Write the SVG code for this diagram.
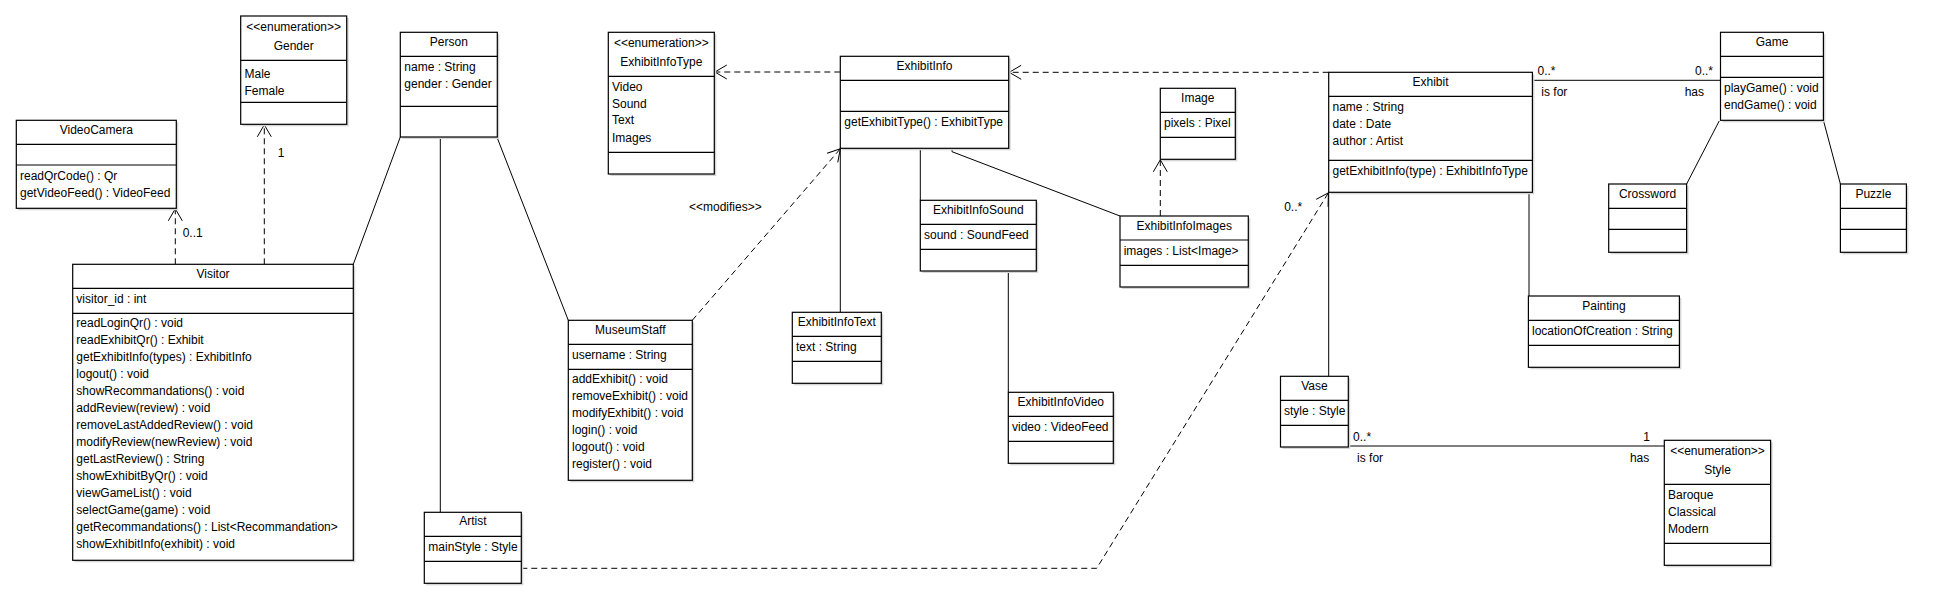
<svg xmlns="http://www.w3.org/2000/svg" width="1944" height="605" viewBox="0 0 1944 605">
<style>
.box{fill:#fff;stroke:#000;stroke-width:1.2}
.sh{fill:#d6d6d6}
.dv{stroke:#000;stroke-width:1.2}
text{font-family:"Liberation Sans",Arial,sans-serif;font-size:12px;fill:#000}
.c{text-anchor:middle}
.ln{stroke:#000;stroke-width:1;fill:none}
.da{stroke-dasharray:6,4}
.ar{marker-end:url(#open)}
</style>
<defs>
<marker id="open" markerUnits="userSpaceOnUse" markerWidth="16" markerHeight="16" viewBox="-14 -8 16 16" refX="0" refY="0" orient="auto">
<path d="M-12,-7 L0,0 L-12,7" fill="none" stroke="#000" stroke-width="1"/>
</marker>
</defs>
<rect width="1944" height="605" fill="#fff"/>

<g id="connectors">
<line class="ln da ar" x1="175.3" y1="264.3" x2="175.3" y2="208.8"/>
<text x="182.7" y="237">0..1</text>
<line class="ln da ar" x1="264.3" y1="264.3" x2="264.3" y2="124.8"/>
<text x="277.7" y="157">1</text>
<line class="ln" x1="353.3" y1="264.3" x2="400.3" y2="137"/>
<line class="ln" x1="440.3" y1="137" x2="440.3" y2="512.3"/>
<line class="ln" x1="497.3" y1="138" x2="568.3" y2="320.3"/>
<line class="ln da ar" x1="692.3" y1="320.3" x2="840.3" y2="148.8"/>
<text x="689" y="210.7">&lt;&lt;modifies&gt;&gt;</text>
<line class="ln da ar" x1="840.3" y1="72" x2="714.8" y2="72"/>
<line class="ln da ar" x1="1328.7" y1="72.3" x2="1009.2" y2="72.3"/>
<line class="ln" x1="840.3" y1="148.3" x2="840.3" y2="312.3"/>
<line class="ln" x1="920.3" y1="148.3" x2="920.3" y2="200.3"/>
<line class="ln" x1="1008.3" y1="271" x2="1008.3" y2="392.3"/>
<polyline class="ln" points="952,148.3 952,151.7 1120,216"/>
<line class="ln da ar" x1="1160.3" y1="216" x2="1160.3" y2="159.8"/>
<polyline class="ln da ar" points="521.3,568.3 1096.7,568.3 1328.4,192.8"/>
<text x="1284.2" y="210.7">0..*</text>
<line class="ln" x1="1532.4" y1="80.3" x2="1720.5" y2="80.3"/>
<text x="1537.5" y="75">0..*</text>
<text x="1541.3" y="95.7">is for</text>
<text x="1713" y="75" text-anchor="end">0..*</text>
<text x="1704" y="95.7" text-anchor="end">has</text>
<line class="ln" x1="1719.2" y1="121" x2="1686.6" y2="184"/>
<line class="ln" x1="1823.4" y1="120.3" x2="1840.4" y2="184"/>
<line class="ln" x1="1328.7" y1="192.3" x2="1328.7" y2="376.3"/>
<line class="ln" x1="1529" y1="192.3" x2="1529" y2="296"/>
<line class="ln" x1="1348.3" y1="446" x2="1664.3" y2="446"/>
<text x="1353.1" y="441.3">0..*</text>
<text x="1357.1" y="461.7">is for</text>
<text x="1650" y="441.3" text-anchor="end">1</text>
<text x="1649.3" y="461.7" text-anchor="end">has</text>
</g>

<g id="Gender">
<rect class="sh" x="242.7" y="18" width="106" height="108.3"/>
<rect class="box" x="240.7" y="16" width="106" height="108.3"/>
<line class="dv" x1="240.7" y1="60.3" x2="346.7" y2="60.3"/>
<line class="dv" x1="240.7" y1="102.3" x2="346.7" y2="102.3"/>
<text class="c" x="293.7" y="30.7">&lt;&lt;enumeration&gt;&gt;</text>
<text class="c" x="293.7" y="49.7">Gender</text>
<text x="244.5" y="78">Male</text>
<text x="244.5" y="95">Female</text>
</g>

<g id="VideoCamera">
<rect class="sh" x="18.3" y="122.3" width="160" height="88"/>
<rect class="box" x="16.3" y="120.3" width="160" height="88"/>
<line class="dv" x1="16.3" y1="144.3" x2="176.3" y2="144.3"/>
<line class="dv" x1="16.3" y1="165" x2="176.3" y2="165"/>
<text class="c" x="96.3" y="134">VideoCamera</text>
<text x="20" y="179.7">readQrCode() : Qr</text>
<text x="20" y="196.7">getVideoFeed() : VideoFeed</text>
</g>

<g id="Visitor">
<rect class="sh" x="74.7" y="266.3" width="280.6" height="296"/>
<rect class="box" x="72.7" y="264.3" width="280.6" height="296"/>
<line class="dv" x1="72.7" y1="288.3" x2="353.3" y2="288.3"/>
<line class="dv" x1="72.7" y1="313.3" x2="353.3" y2="313.3"/>
<text class="c" x="213" y="277.7">Visitor</text>
<text x="76.3" y="302.7">visitor_id : int</text>
<text x="76.3" y="327.3">readLoginQr() : void</text>
<text x="76.3" y="344.3">readExhibitQr() : Exhibit</text>
<text x="76.3" y="361.3">getExhibitInfo(types) : ExhibitInfo</text>
<text x="76.3" y="378.3">logout() : void</text>
<text x="76.3" y="395.3">showRecommandations() : void</text>
<text x="76.3" y="412.3">addReview(review) : void</text>
<text x="76.3" y="429.3">removeLastAddedReview() : void</text>
<text x="76.3" y="446.3">modifyReview(newReview) : void</text>
<text x="76.3" y="463.3">getLastReview() : String</text>
<text x="76.3" y="480.3">showExhibitByQr() : void</text>
<text x="76.3" y="497.3">viewGameList() : void</text>
<text x="76.3" y="514.3">selectGame(game) : void</text>
<text x="76.3" y="531.3">getRecommandations() : List&lt;Recommandation&gt;</text>
<text x="76.3" y="548.3">showExhibitInfo(exhibit) : void</text>
</g>

<g id="Person">
<rect class="sh" x="402.3" y="34.3" width="97" height="104.7"/>
<rect class="box" x="400.3" y="32.3" width="97" height="104.7"/>
<line class="dv" x1="400.3" y1="56.3" x2="497.3" y2="56.3"/>
<line class="dv" x1="400.3" y1="106.3" x2="497.3" y2="106.3"/>
<text class="c" x="448.8" y="46">Person</text>
<text x="404.3" y="70.7">name : String</text>
<text x="404.3" y="87.7">gender : Gender</text>
</g>

<g id="ExhibitInfoType">
<rect class="sh" x="610.3" y="34.3" width="106" height="141.7"/>
<rect class="box" x="608.3" y="32.3" width="106" height="141.7"/>
<line class="dv" x1="608.3" y1="76.3" x2="714.3" y2="76.3"/>
<line class="dv" x1="608.3" y1="152.3" x2="714.3" y2="152.3"/>
<text class="c" x="661.3" y="46.7">&lt;&lt;enumeration&gt;&gt;</text>
<text class="c" x="661.3" y="66">ExhibitInfoType</text>
<text x="612" y="90.7">Video</text>
<text x="612" y="107.7">Sound</text>
<text x="612" y="124.3">Text</text>
<text x="612" y="141.7">Images</text>
</g>

<g id="MuseumStaff">
<rect class="sh" x="570.3" y="322.3" width="124" height="160"/>
<rect class="box" x="568.3" y="320.3" width="124" height="160"/>
<line class="dv" x1="568.3" y1="344.3" x2="692.3" y2="344.3"/>
<line class="dv" x1="568.3" y1="369.3" x2="692.3" y2="369.3"/>
<text class="c" x="630.3" y="333.7">MuseumStaff</text>
<text x="572" y="358.7">username : String</text>
<text x="572" y="383.3">addExhibit() : void</text>
<text x="572" y="400.3">removeExhibit() : void</text>
<text x="572" y="417.3">modifyExhibit() : void</text>
<text x="572" y="434.3">login() : void</text>
<text x="572" y="451.3">logout() : void</text>
<text x="572" y="468.3">register() : void</text>
</g>

<g id="Artist">
<rect class="sh" x="426.3" y="514.3" width="97" height="71"/>
<rect class="box" x="424.3" y="512.3" width="97" height="71"/>
<line class="dv" x1="424.3" y1="536.3" x2="521.3" y2="536.3"/>
<line class="dv" x1="424.3" y1="561.3" x2="521.3" y2="561.3"/>
<text class="c" x="472.8" y="525.3">Artist</text>
<text x="428.3" y="550.7">mainStyle : Style</text>
</g>

<g id="ExhibitInfo">
<rect class="sh" x="842.3" y="58.3" width="168.4" height="92"/>
<rect class="box" x="840.3" y="56.3" width="168.4" height="92"/>
<line class="dv" x1="840.3" y1="80.3" x2="1008.7" y2="80.3"/>
<line class="dv" x1="840.3" y1="111.3" x2="1008.7" y2="111.3"/>
<text class="c" x="924.5" y="69.7">ExhibitInfo</text>
<text x="844.3" y="125.7">getExhibitType() : ExhibitType</text>
</g>

<g id="ExhibitInfoSound">
<rect class="sh" x="922.3" y="202.3" width="116" height="70.7"/>
<rect class="box" x="920.3" y="200.3" width="116" height="70.7"/>
<line class="dv" x1="920.3" y1="224.3" x2="1036.3" y2="224.3"/>
<line class="dv" x1="920.3" y1="249.3" x2="1036.3" y2="249.3"/>
<text class="c" x="978.3" y="213.7">ExhibitInfoSound</text>
<text x="924" y="238.7">sound : SoundFeed</text>
</g>

<g id="Image">
<rect class="sh" x="1162.3" y="90.3" width="75" height="71"/>
<rect class="box" x="1160.3" y="88.3" width="75" height="71"/>
<line class="dv" x1="1160.3" y1="112.3" x2="1235.3" y2="112.3"/>
<line class="dv" x1="1160.3" y1="137.3" x2="1235.3" y2="137.3"/>
<text class="c" x="1197.8" y="101.7">Image</text>
<text x="1164" y="126.7">pixels : Pixel</text>
</g>

<g id="ExhibitInfoImages">
<rect class="sh" x="1122" y="218" width="128.3" height="71"/>
<rect class="box" x="1120" y="216" width="128.3" height="71"/>
<line class="dv" x1="1120" y1="240" x2="1248.3" y2="240"/>
<line class="dv" x1="1120" y1="265.3" x2="1248.3" y2="265.3"/>
<text class="c" x="1184.2" y="229.7">ExhibitInfoImages</text>
<text x="1123.7" y="254.7">images : List&lt;Image&gt;</text>
</g>

<g id="ExhibitInfoText">
<rect class="sh" x="794.3" y="314.3" width="89" height="71"/>
<rect class="box" x="792.3" y="312.3" width="89" height="71"/>
<line class="dv" x1="792.3" y1="336.3" x2="881.3" y2="336.3"/>
<line class="dv" x1="792.3" y1="361.3" x2="881.3" y2="361.3"/>
<text class="c" x="836.8" y="325.7">ExhibitInfoText</text>
<text x="796" y="350.7">text : String</text>
</g>

<g id="ExhibitInfoVideo">
<rect class="sh" x="1010.3" y="394.3" width="105" height="71"/>
<rect class="box" x="1008.3" y="392.3" width="105" height="71"/>
<line class="dv" x1="1008.3" y1="416.3" x2="1113.3" y2="416.3"/>
<line class="dv" x1="1008.3" y1="441.3" x2="1113.3" y2="441.3"/>
<text class="c" x="1060.8" y="405.7">ExhibitInfoVideo</text>
<text x="1012" y="430.7">video : VideoFeed</text>
</g>

<g id="Exhibit">
<rect class="sh" x="1330.7" y="74.3" width="203.7" height="120"/>
<rect class="box" x="1328.7" y="72.3" width="203.7" height="120"/>
<line class="dv" x1="1328.7" y1="96.3" x2="1532.4" y2="96.3"/>
<line class="dv" x1="1328.7" y1="160.3" x2="1532.4" y2="160.3"/>
<text class="c" x="1430.5" y="85.7">Exhibit</text>
<text x="1332.5" y="110.7">name : String</text>
<text x="1332.5" y="127.7">date : Date</text>
<text x="1332.5" y="144.7">author : Artist</text>
<text x="1332.5" y="174.7">getExhibitInfo(type) : ExhibitInfoType</text>
</g>

<g id="Game">
<rect class="sh" x="1722.5" y="34.3" width="102.9" height="88"/>
<rect class="box" x="1720.5" y="32.3" width="102.9" height="88"/>
<line class="dv" x1="1720.5" y1="56.3" x2="1823.4" y2="56.3"/>
<line class="dv" x1="1720.5" y1="77.3" x2="1823.4" y2="77.3"/>
<text class="c" x="1772" y="45.7">Game</text>
<text x="1724" y="92">playGame() : void</text>
<text x="1724" y="108.7">endGame() : void</text>
</g>

<g id="Crossword">
<rect class="sh" x="1610.7" y="186" width="77.9" height="68.3"/>
<rect class="box" x="1608.7" y="184" width="77.9" height="68.3"/>
<line class="dv" x1="1608.7" y1="208.3" x2="1686.6" y2="208.3"/>
<line class="dv" x1="1608.7" y1="229.3" x2="1686.6" y2="229.3"/>
<text class="c" x="1647.6" y="197.7">Crossword</text>
</g>

<g id="Puzzle">
<rect class="sh" x="1842.4" y="186" width="66" height="68.3"/>
<rect class="box" x="1840.4" y="184" width="66" height="68.3"/>
<line class="dv" x1="1840.4" y1="208.3" x2="1906.4" y2="208.3"/>
<line class="dv" x1="1840.4" y1="229.3" x2="1906.4" y2="229.3"/>
<text class="c" x="1873.4" y="197.7">Puzzle</text>
</g>

<g id="Painting">
<rect class="sh" x="1530.4" y="298" width="151" height="71.3"/>
<rect class="box" x="1528.4" y="296" width="151" height="71.3"/>
<line class="dv" x1="1528.4" y1="320.3" x2="1679.4" y2="320.3"/>
<line class="dv" x1="1528.4" y1="345.3" x2="1679.4" y2="345.3"/>
<text class="c" x="1603.9" y="309.7">Painting</text>
<text x="1532" y="334.7">locationOfCreation : String</text>
</g>

<g id="Vase">
<rect class="sh" x="1282.5" y="378.3" width="67.8" height="70.7"/>
<rect class="box" x="1280.5" y="376.3" width="67.8" height="70.7"/>
<line class="dv" x1="1280.5" y1="400.3" x2="1348.3" y2="400.3"/>
<line class="dv" x1="1280.5" y1="425.3" x2="1348.3" y2="425.3"/>
<text class="c" x="1314.4" y="390">Vase</text>
<text x="1284" y="414.7">style : Style</text>
</g>

<g id="Style">
<rect class="sh" x="1666.3" y="442.3" width="106.3" height="125"/>
<rect class="box" x="1664.3" y="440.3" width="106.3" height="125"/>
<line class="dv" x1="1664.3" y1="484.3" x2="1770.6" y2="484.3"/>
<line class="dv" x1="1664.3" y1="543.3" x2="1770.6" y2="543.3"/>
<text class="c" x="1717.5" y="454.7">&lt;&lt;enumeration&gt;&gt;</text>
<text class="c" x="1717.5" y="473.7">Style</text>
<text x="1668" y="499">Baroque</text>
<text x="1668" y="515.7">Classical</text>
<text x="1668" y="532.7">Modern</text>
</g>
</svg>
